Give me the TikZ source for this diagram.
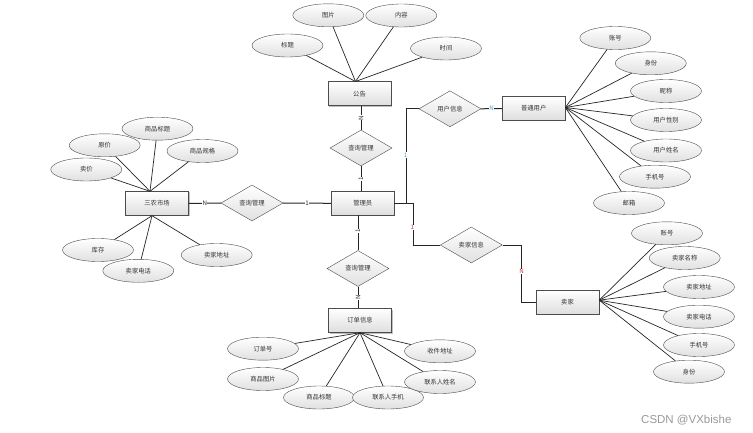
\documentclass[tikz,border=0pt]{standalone}
\usepackage{fontspec}
\setmainfont{Noto Sans CJK SC}
\newfontfamily\wmfont{Liberation Sans}
\usetikzlibrary{shapes.geometric,shadows}
\definecolor{cardblue}{RGB}{70,170,210}
\definecolor{cardred}{RGB}{205,60,60}
\begin{document}
\begin{tikzpicture}[x=1pt,y=-1pt,
  every node/.style={font=\fontsize{6.3}{7}\selectfont, text=black!80},
  ent/.style={draw=black!70, rectangle, minimum width=63pt, minimum height=24pt, inner sep=0pt,
    top color=white, bottom color=black!13,
    drop shadow={shadow xshift=1pt,shadow yshift=-1pt,opacity=0.25,fill=black}},
  rel/.style={draw=black!70, diamond, minimum width=62pt, minimum height=36pt, inner sep=0pt,
    top color=white, bottom color=black!12},
  attr/.style={draw=black!70, ellipse, minimum width=71pt, minimum height=23pt, inner sep=0pt,
    top color=white, bottom color=black!12},
  conn/.style={draw=black!85, line width=1pt},
  aline/.style={draw=black!85, line width=0.7pt},
  card/.style={font=\fontsize{6.2}{6.2}\selectfont, fill=white, inner sep=0.3pt, text=black!85},
]
\fill[white] (0,0) rectangle (753,433);
\useasboundingbox (0,0) rectangle (753,433);

% entities
\node[ent] (gg)  at (359.5,93.7)  {公告};
\node[ent] (gly) at (362.7,203.3) {管理员};
\node[ent] (sn)  at (157,203.5)   {三农市场};
\node[ent] (dd)  at (360,320.5)   {订单信息};
\node[ent] (pt)  at (533.7,108.5) {普通用户};
\node[ent] (mj)  at (567.5,302.2) {卖家};

% relations
\node[rel] (r1) at (361,148)   {查询管理};
\node[rel] (r2) at (252,203)   {查询管理};
\node[rel] (r3) at (358,268.5) {查询管理};
\node[rel] (r4) at (450,108.8) {用户信息};
\node[rel] (r5) at (471.3,245) {卖家信息};

% attributes of 公告
\node[attr] (g1) at (328.3,15.3) {图片};
\node[attr] (g2) at (401.3,15.5) {内容};
\node[attr] (g3) at (287.5,45.5) {标题};
\node[attr] (g4) at (446,48.5)   {时间};
\foreach \a in {g1,g2,g3,g4} \draw[aline] ([xshift=-4pt]gg.north) -- (\a);

% attributes of 三农市场
\node[attr] (s1) at (157.5,128.7) {商品标题};
\node[attr] (s2) at (104.7,145.3) {原价};
\node[attr] (s3) at (202.5,151)   {商品规格};
\node[attr] (s4) at (86.3,169.5)  {卖价};
\node[attr] (s5) at (98,250)      {库存};
\node[attr] (s6) at (138.3,270.8) {卖家电话};
\node[attr] (s7) at (216.7,255)   {卖家地址};
\foreach \a in {s1,s2,s3,s4} \draw[aline] ([xshift=-7pt]sn.north) -- (\a);
\foreach \a in {s5,s6,s7} \draw[aline] ([xshift=-5pt]sn.south) -- (\a);

% attributes of 普通用户
\node[attr] (p1) at (615.3,38)  {账号};
\node[attr] (p2) at (650.8,63.3) {身份};
\node[attr] (p3) at (666,91)    {昵称};
\node[attr] (p4) at (666,120)   {用户性别};
\node[attr] (p5) at (666,150.5) {用户姓名};
\node[attr] (p6) at (655,176.7) {手机号};
\node[attr] (p7) at (629,203)   {邮箱};
\foreach \a in {p1,p2,p3,p4,p5,p6,p7} \draw[aline] ([yshift=1pt]pt.east) -- (\a);

% attributes of 卖家
\node[attr] (m1) at (667,233.3) {账号};
\node[attr] (m2) at (684.7,258) {卖家名称};
\node[attr] (m3) at (699,287)   {卖家地址};
\node[attr] (m4) at (699,316.7) {卖家电话};
\node[attr] (m5) at (699,345)   {手机号};
\node[attr] (m6) at (689,371.7) {身份};
\foreach \a in {m1,m2,m3,m4,m5,m6} \draw[aline] ([yshift=2pt]mj.east) -- (\a);

% attributes of 订单信息
\node[attr] (d1) at (263,348.7) {订单号};
\node[attr] (d2) at (263,379)   {商品图片};
\node[attr] (d3) at (319,397.5) {商品标题};
\node[attr] (d4) at (388,397.5) {联系人手机};
\node[attr] (d5) at (440,351.3) {收件地址};
\node[attr] (d6) at (440,382)   {联系人姓名};
\foreach \a in {d1,d2,d3,d4,d5,d6} \draw[aline] (dd.south) -- (\a);

% relationship connectors
\draw[conn] (r1.north) -- node[card,rotate=90,pos=0.5]{N} (r1.north |- gg.south);
\draw[conn] (r1.south) -- node[card,rotate=90,pos=0.5]{1} (r1.south |- gly.north);

\draw[conn] (sn.east) -- node[card]{N} (r2.west);
\draw[conn] (r2.east) -- node[card]{1} (gly.west);

\draw[conn] (r3.north) -- node[card,rotate=90,pos=0.55]{1} (r3.north |- gly.south);
\draw[conn] (r3.south) -- node[card,rotate=90,pos=0.5]{N} (r3.south |- dd.north);

\draw[conn] (gly.east) -| ([xshift=-12pt]r4.west) -- (r4.west);
\node[card,text=cardblue] (c1) at (405.7,155) {1};
\draw[conn] (r4.east) -- node[card,text=cardblue]{N} (pt.west);

\draw[conn] (gly.east) -| ([xshift=-27pt]r5.west) -- (r5.west);
\node[card,text=cardred] (c2) at (412.3,227.3) {1};
\draw[conn] (r5.east) -| ([xshift=-14pt]mj.west) -- (mj.west);
\node[card,text=cardred] (c3) at (521.7,271.7) {N};

% watermark
\node[font=\wmfont\fontsize{11.5}{12}\selectfont, text=black!40, anchor=west, inner sep=0pt] (wm) at (641,420) {CSDN @VXbishe};
\end{tikzpicture}
\end{document}
